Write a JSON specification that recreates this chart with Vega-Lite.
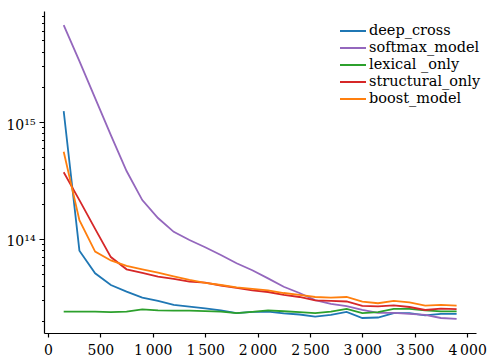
{
  "$schema": "https://vega.github.io/schema/vega-lite/v6.json",
  "width": 432,
  "height": 322,
  "autosize": "none",
  "padding": {"left": 44, "top": 11, "right": 14, "bottom": 28},
  "background": "white",
  "config": {"view": {"stroke": null}, "font": "DejaVu Serif"},
  "data": {
    "values": [
      {"x": 150, "deep_cross": 1.24e15, "softmax_model": 6.75e15, "lexical _only": 2.39e13, "structural_only": 3.72e14, "boost_model": 5.57e14},
      {"x": 300, "deep_cross": 7.94e13, "softmax_model": 3.32e15, "lexical _only": 2.39e13, "structural_only": 2.15e14, "boost_model": 1.45e14},
      {"x": 450, "deep_cross": 5.09e13, "softmax_model": 1.60e15, "lexical _only": 2.39e13, "structural_only": 1.22e14, "boost_model": 7.8e13},
      {"x": 600, "deep_cross": 4.04e13, "softmax_model": 7.74e14, "lexical _only": 2.37e13, "structural_only": 7.0e13, "boost_model": 6.55e13},
      {"x": 750, "deep_cross": 3.55e13, "softmax_model": 3.81e14, "lexical _only": 2.39e13, "structural_only": 5.5e13, "boost_model": 5.88e13},
      {"x": 900, "deep_cross": 3.15e13, "softmax_model": 2.15e14, "lexical _only": 2.50e13, "structural_only": 5.12e13, "boost_model": 5.49e13},
      {"x": 1050, "deep_cross": 2.95e13, "softmax_model": 1.51e14, "lexical _only": 2.45e13, "structural_only": 4.76e13, "boost_model": 5.15e13},
      {"x": 1200, "deep_cross": 2.73e13, "softmax_model": 1.15e14, "lexical _only": 2.44e13, "structural_only": 4.55e13, "boost_model": 4.78e13},
      {"x": 1350, "deep_cross": 2.64e13, "softmax_model": 9.8e13, "lexical _only": 2.44e13, "structural_only": 4.32e13, "boost_model": 4.46e13},
      {"x": 1500, "deep_cross": 2.55e13, "softmax_model": 8.5e13, "lexical _only": 2.42e13, "structural_only": 4.23e13, "boost_model": 4.21e13},
      {"x": 1650, "deep_cross": 2.45e13, "softmax_model": 7.3e13, "lexical _only": 2.39e13, "structural_only": 4.0e13, "boost_model": 4.04e13},
      {"x": 1800, "deep_cross": 2.32e13, "softmax_model": 6.2e13, "lexical _only": 2.32e13, "structural_only": 3.81e13, "boost_model": 3.85e13},
      {"x": 1950, "deep_cross": 2.38e13, "softmax_model": 5.4e13, "lexical _only": 2.38e13, "structural_only": 3.63e13, "boost_model": 3.74e13},
      {"x": 2100, "deep_cross": 2.39e13, "softmax_model": 4.6e13, "lexical _only": 2.45e13, "structural_only": 3.52e13, "boost_model": 3.63e13},
      {"x": 2250, "deep_cross": 2.31e13, "softmax_model": 3.9e13, "lexical _only": 2.41e13, "structural_only": 3.32e13, "boost_model": 3.45e13},
      {"x": 2400, "deep_cross": 2.26e13, "softmax_model": 3.45e13, "lexical _only": 2.37e13, "structural_only": 3.19e13, "boost_model": 3.32e13},
      {"x": 2550, "deep_cross": 2.17e13, "softmax_model": 3.0e13, "lexical _only": 2.32e13, "structural_only": 2.98e13, "boost_model": 3.19e13},
      {"x": 2700, "deep_cross": 2.24e13, "softmax_model": 2.78e13, "lexical _only": 2.39e13, "structural_only": 2.95e13, "boost_model": 3.15e13},
      {"x": 2850, "deep_cross": 2.38e13, "softmax_model": 2.67e13, "lexical _only": 2.52e13, "structural_only": 2.92e13, "boost_model": 3.19e13},
      {"x": 3000, "deep_cross": 2.11e13, "softmax_model": 2.47e13, "lexical _only": 2.32e13, "structural_only": 2.68e13, "boost_model": 2.91e13},
      {"x": 3150, "deep_cross": 2.13e13, "softmax_model": 2.33e13, "lexical _only": 2.37e13, "structural_only": 2.65e13, "boost_model": 2.82e13},
      {"x": 3300, "deep_cross": 2.32e13, "softmax_model": 2.33e13, "lexical _only": 2.52e13, "structural_only": 2.70e13, "boost_model": 2.95e13},
      {"x": 3450, "deep_cross": 2.32e13, "softmax_model": 2.29e13, "lexical _only": 2.52e13, "structural_only": 2.62e13, "boost_model": 2.87e13},
      {"x": 3600, "deep_cross": 2.22e13, "softmax_model": 2.24e13, "lexical _only": 2.45e13, "structural_only": 2.47e13, "boost_model": 2.69e13},
      {"x": 3750, "deep_cross": 2.29e13, "softmax_model": 2.11e13, "lexical _only": 2.40e13, "structural_only": 2.54e13, "boost_model": 2.73e13},
      {"x": 3900, "deep_cross": 2.29e13, "softmax_model": 2.07e13, "lexical _only": 2.40e13, "structural_only": 2.51e13, "boost_model": 2.69e13}
    ]
  },
  "transform": [
    {"fold": ["deep_cross", "softmax_model", "lexical _only", "structural_only", "boost_model"], "as": ["series", "value"]}
  ],
  "mark": {"type": "line", "strokeWidth": 1.8, "clip": true},
  "encoding": {
    "x": {
      "field": "x",
      "type": "quantitative",
      "scale": {"domain": [-38, 4085], "nice": false, "zero": false},
      "axis": {
        "values": [0, 500, 1000, 1500, 2000, 2500, 3000, 3500, 4000],
        "title": null,
        "grid": false,
        "domainColor": "#000",
        "domainWidth": 1.2,
        "tickColor": "#000",
        "tickWidth": 1.2,
        "tickSize": 4,
        "labelFont": "DejaVu Serif",
        "labelFontSize": 14,
        "labelColor": "#000",
        "labelPadding": 6,
        "labelFlush": false,
        "labelOverlap": false,
        "labelExpr": "datum.value >= 1000 ? replace(format(datum.value, ','), ',', '\u2009') : format(datum.value, 'd')"
      }
    },
    "y": {
      "field": "value",
      "type": "quantitative",
      "scale": {"type": "log", "domain": [1.57e13, 8.9e15], "nice": false},
      "axis": {
        "values": [2e13, 3e13, 4e13, 5e13, 6e13, 7e13, 8e13, 9e13, 1e14, 2e14, 3e14, 4e14, 5e14, 6e14, 7e14, 8e14, 9e14, 1e15, 2e15, 3e15, 4e15, 5e15, 6e15, 7e15, 8e15],
        "title": null,
        "grid": false,
        "domainColor": "#000",
        "domainWidth": 1.2,
        "tickColor": "#000",
        "tickWidth": 1,
        "tickSize": {"condition": {"test": "datum.value == 1e14 || datum.value == 1e15", "value": 5}, "value": 2.5},
        "labelFont": "DejaVu Serif",
        "labelFontSize": 14,
        "labelColor": "#000",
        "labelPadding": 4,
        "labelOffset": 3,
        "labelOverlap": false,
        "labelFlush": false,
        "labelExpr": "datum.value == 1e15 ? '10¹⁵' : (datum.value == 1e14 ? '10¹⁴' : '')"
      }
    },
    "color": {
      "field": "series",
      "type": "nominal",
      "scale": {
        "domain": ["deep_cross", "softmax_model", "lexical _only", "structural_only", "boost_model"],
        "range": ["#1f77b4", "#9467bd", "#2ca02c", "#d62728", "#ff7f0e"]
      },
      "legend": {
        "orient": "none",
        "legendX": 299,
        "legendY": 10,
        "title": null,
        "padding": 0,
        "symbolType": "M-1.5,0H1.5",
        "symbolSize": 300,
        "symbolStrokeWidth": 2,
        "symbolFillColor": "transparent",
        "labelFont": "DejaVu Serif",
        "labelFontSize": 14.5,
        "labelColor": "#000",
        "labelOffset": 6,
        "rowPadding": 0
      }
    }
  }
}
